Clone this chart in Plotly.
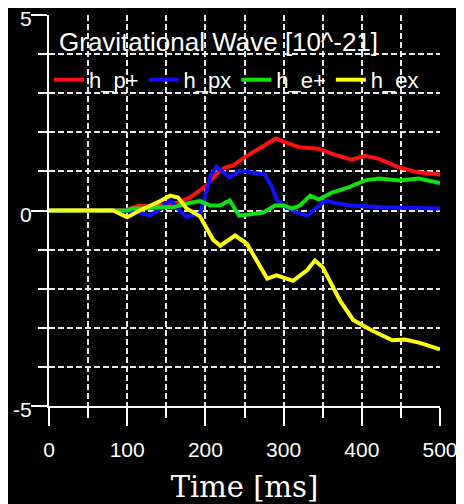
import plotly.graph_objects as go

# ---- data ----
t_p_plus = [0, 50, 90, 100, 115, 130, 150, 165, 180, 200, 215, 225, 235, 250, 270, 280, 290, 302, 320, 345, 362, 387, 404, 422, 448, 473, 500]
h_p_plus = [0, 0, 0, 0.02, 0.13, 0.1, 0.15, 0.2, 0.33, 0.62, 0.95, 1.1, 1.15, 1.36, 1.6, 1.72, 1.84, 1.74, 1.62, 1.58, 1.45, 1.3, 1.4, 1.32, 1.1, 0.97, 0.92]

t_p_x = [0, 100, 115, 129, 140, 155, 167, 176, 193, 202, 207, 214, 222, 231, 244, 260, 276, 285, 292, 300, 317, 330, 343, 353, 365, 385, 426, 500]
h_p_x = [0, 0, -0.05, -0.13, 0.0, 0.26, 0.0, -0.17, -0.08, 0.5, 0.9, 1.12, 1.0, 0.85, 1.02, 0.98, 0.92, 0.6, 0.25, 0.12, -0.05, -0.13, 0.08, 0.25, 0.2, 0.13, 0.08, 0.05]

t_e_plus = [0, 100, 107, 124, 140, 159, 176, 193, 206, 219, 231, 238, 243, 256, 274, 289, 300, 311, 321, 334, 345, 362, 384, 404, 422, 448, 473, 500]
h_e_plus = [0, 0, 0.05, 0.05, 0.08, 0.08, 0.18, 0.24, 0.13, 0.13, 0.26, 0.05, -0.13, -0.1, -0.05, 0.13, 0.13, 0.05, 0.13, 0.38, 0.28, 0.46, 0.6, 0.77, 0.82, 0.77, 0.82, 0.7]

t_e_x = [0, 50, 82, 100, 116, 138, 155, 165, 176, 193, 202, 210, 219, 238, 253, 265, 279, 291, 312, 330, 340, 350, 372, 389, 413, 439, 455, 473, 500]
h_e_x = [0, 0, 0, -0.17, 0, 0.2, 0.38, 0.33, 0.05, -0.15, -0.45, -0.75, -0.9, -0.64, -0.85, -1.25, -1.74, -1.66, -1.8, -1.53, -1.28, -1.45, -2.3, -2.8, -3.07, -3.32, -3.3, -3.38, -3.55]

series_names = ["h_p+", "h_px", "h_e+", "h_ex"]
series_colors = ["#ff1010", "#1010ff", "#10e010", "#ffff10"]
x_tickvals = [0, 100, 200, 300, 400, 500]
y_tickvals = [-5, 0, 5]
y_ticktext = ["-5", "0", "5"]
chart_title = "Gravitational Wave [10^-21]"
x_title = "Time [ms]"

fig = go.Figure()
for name, color, tt, hh in zip(series_names, series_colors,
                               [t_p_plus, t_p_x, t_e_plus, t_e_x],
                               [h_p_plus, h_p_x, h_e_plus, h_e_x]):
    fig.add_trace(go.Scatter(x=tt, y=hh, mode="lines", name=name,
                             line=dict(color=color, width=4)))

grid_col = "#e8e8e8"
fig.update_layout(
    width=464, height=504,
    paper_bgcolor="black", plot_bgcolor="black",
    margin=dict(l=41, r=32, t=7, b=106, autoexpand=False),
    font=dict(family="Liberation Sans, Arial", color="white", size=21),
    showlegend=True,
    legend=dict(orientation="h", x=0.0, xanchor="left", y=0.834, yanchor="middle",
                bgcolor="rgba(0,0,0,0)", font=dict(size=22, color="white"),
                itemwidth=30, tracegroupgap=0),
    annotations=[dict(text=chart_title, xref="paper", yref="paper", x=0.02, y=0.931,
                      xanchor="left", yanchor="middle", showarrow=False,
                      font=dict(size=26, color="white"))],
)
fig.update_xaxes(
    range=[0, 500], tickvals=x_tickvals, ticks="outside", ticklen=18, tickwidth=1.5,
    tickcolor="white", showline=True, linecolor="white", linewidth=2, mirror=False,
    showgrid=True, gridcolor=grid_col, griddash="6px,3px", gridwidth=1.5,
    zeroline=False, tickfont=dict(size=21), automargin=False, ticklabelstandoff=6,
    ticklabeloverflow="allow",
    minor=dict(dtick=50, ticks="outside", ticklen=10, tickcolor="white",
               showgrid=True, gridcolor=grid_col, griddash="6px,3px", gridwidth=1.5),
    title=dict(text=x_title, font=dict(family="DejaVu Serif", size=29, color="white"),
               standoff=16),
)
fig.update_yaxes(
    range=[-5, 5], tickvals=y_tickvals, ticktext=y_ticktext, ticks="outside", ticklen=16,
    tickwidth=1.5, tickcolor="white", showline=True, linecolor="white", linewidth=2,
    mirror=False, showgrid=True, gridcolor=grid_col, griddash="6px,3px", gridwidth=1.5,
    zeroline=False, tickfont=dict(size=21), automargin=False, ticklabelstandoff=-5,
    ticklabelshift=4, ticklabeloverflow="allow",
    minor=dict(dtick=1, ticks="outside", ticklen=9, tickcolor="white",
               showgrid=True, gridcolor=grid_col, griddash="6px,3px", gridwidth=1.5),
)
fig.write_html("out.html")
